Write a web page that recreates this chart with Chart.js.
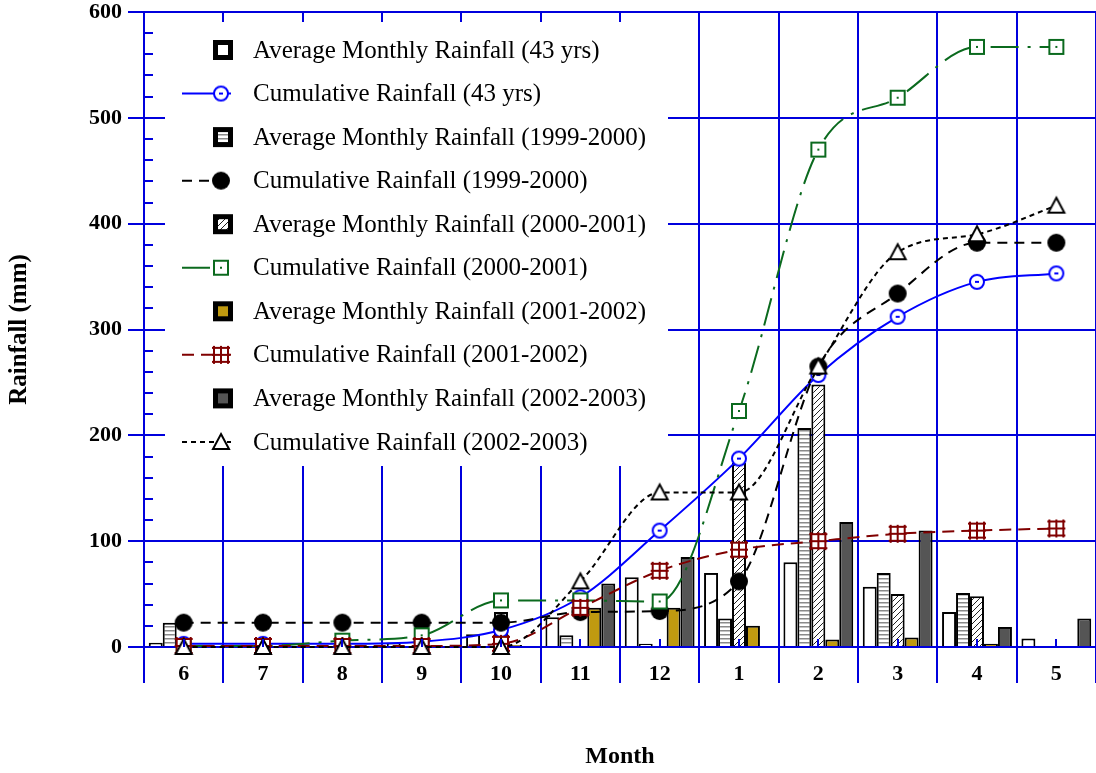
<!DOCTYPE html>
<html>
<head>
<meta charset="utf-8">
<script src="https://cdn.jsdelivr.net/npm/chart.js@4.4.1/dist/chart.umd.min.js"></script>
<style>
  html, body { margin: 0; padding: 0; background: #fff; }
  #wrap { width: 1096px; height: 773px; }
</style>
</head>
<body>
<div id="wrap"><canvas id="rain" width="1096" height="773"></canvas></div>
<script>
// hydrological year, June -> May
const months = ['6', '7', '8', '9', '10', '11', '12', '1', '2', '3', '4', '5'];

// monthly rainfall (mm)
const avg43   = [4, 0, 0, 4, 12, 28, 66, 70, 80, 57, 33, 8];
const avg9900 = [23, 0, 0, 0, 0, 11, 3, 27, 207, 70, 51, 0];
const avg0001 = [0, 0, 6, 5, 33, 0, 0, 174, 248, 50, 48, 0];
const avg0102 = [0, 0, 0, 0, 2, 37, 37, 20, 7, 9, 3, 0];
const avg0203 = [0, 0, 0, 0, 0, 60, 85, 0, 118, 110, 19, 27];

// cumulative rainfall (mm)
const cum43   = [3, 3, 3, 5, 16, 47, 110, 178, 257, 312, 345, 353];
const cum9900 = [23, 23, 23, 23, 23, 33, 34, 62, 265, 334, 382, 382];
const cum0001 = [1, 1, 6, 11, 44, 44, 43, 223, 470, 519, 567, 567];
const cum0102 = [1, 1, 1, 1, 3, 37, 72, 92, 100, 107, 110, 112];
const cum0203 = [0, 0, 0, 0, 0, 62, 146, 146, 265, 373, 390, 417];

const yTicks = [0, 100, 200, 300, 400, 500, 600];

const SERIF = '"Liberation Serif", "Times New Roman", serif';
const GRID = '#0000dd';
const BLUE = '#0000ff';
const GREEN = '#0b6a1e';
const RED = '#800000';
const GOLD = '#c09a10';
const DARK = '#555555';

const canvas = document.getElementById('rain');
const ctx = canvas.getContext('2d');

function tile(w, h, draw) {
    const c = document.createElement('canvas');
    c.width = w; c.height = h;
    const g = c.getContext('2d');
    g.fillStyle = '#fff'; g.fillRect(0, 0, w, h);
    draw(g);
    return ctx.createPattern(c, 'repeat');
}
const stripes = tile(6, 4, g => { g.fillStyle = '#8a8a8a'; g.fillRect(0, 2, 6, 1.5); });
const hatch = tile(6, 6, g => {
    g.strokeStyle = '#222'; g.lineWidth = 1;
    g.beginPath();
    g.moveTo(0, 6); g.lineTo(6, 0);
    g.moveTo(-1, 1); g.lineTo(1, -1);
    g.moveTo(5, 7); g.lineTo(7, 5);
    g.stroke();
});

function marker(size, draw) {
    const c = document.createElement('canvas');
    c.width = c.height = size;
    draw(c.getContext('2d'), size / 2);
    return c;
}
const ptCircle = marker(20, (g, m) => {
    g.beginPath(); g.arc(m, m, 7, 0, Math.PI * 2);
    g.fillStyle = '#fff'; g.fill();
    g.lineWidth = 2; g.strokeStyle = BLUE; g.stroke();
    g.fillStyle = BLUE; g.fillRect(m - 2, m - 1, 4, 2);
});
const ptDot = marker(22, (g, m) => {
    g.beginPath(); g.arc(m, m, 9, 0, Math.PI * 2);
    g.fillStyle = '#000'; g.fill();
});
const ptSquare = marker(20, (g, m) => {
    g.fillStyle = '#fff'; g.fillRect(m - 7, m - 7, 14, 14);
    g.lineWidth = 2; g.strokeStyle = GREEN; g.strokeRect(m - 7, m - 7, 14, 14);
    g.fillStyle = GREEN; g.fillRect(m - 1, m - 1, 2, 2);
});
const ptGrid = marker(22, (g, m) => {
    g.fillStyle = '#fff'; g.fillRect(m - 8, m - 8, 16, 16);
    g.strokeStyle = RED; g.lineWidth = 2;
    g.beginPath();
    for (const d of [-7, 0, 7]) {
        g.moveTo(m + d, m - 9); g.lineTo(m + d, m + 9);
        g.moveTo(m - 9, m + d); g.lineTo(m + 9, m + d);
    }
    g.stroke();
});
const ptTriangle = marker(22, (g, m) => {
    g.beginPath();
    g.moveTo(m, m - 8); g.lineTo(m + 8, m + 7); g.lineTo(m - 8, m + 7); g.closePath();
    g.fillStyle = '#fff'; g.fill();
    g.lineWidth = 2; g.strokeStyle = '#000'; g.stroke();
});

function bars(label, data, fill) {
    return { type: 'bar', label, data, backgroundColor: fill, borderColor: '#000', borderWidth: 2, order: 10 };
}
function line(label, data, color, dash, point, order) {
    return {
        type: 'line', label, data, borderColor: color, backgroundColor: color, borderWidth: 2,
        borderDash: dash, pointStyle: point, pointRadius: 8, pointHoverRadius: 8,
        cubicInterpolationMode: 'monotone', fill: false, clip: false, order
    };
}

const datasets = [
    bars('Average Monthly Rainfall (43 yrs)', avg43, '#fff'),
    line('Cumulative Rainfall (43 yrs)', cum43, BLUE, [], ptCircle, 5),
    bars('Average Monthly Rainfall (1999-2000)', avg9900, stripes),
    line('Cumulative Rainfall (1999-2000)', cum9900, '#000', [10, 7], ptDot, 4),
    bars('Average Monthly Rainfall (2000-2001)', avg0001, hatch),
    line('Cumulative Rainfall (2000-2001)', cum0001, GREEN, [28, 9, 3, 9], ptSquare, 3),
    bars('Average Monthly Rainfall (2001-2002)', avg0102, GOLD),
    line('Cumulative Rainfall (2001-2002)', cum0102, RED, [12, 7], ptGrid, 2),
    bars('Average Monthly Rainfall (2002-2003)', avg0203, DARK),
    line('Cumulative Rainfall (2002-2003)', cum0203, '#000', [5, 4], ptTriangle, 1)
];

// white legend panel over the grid, plus inward minor ticks
const frame = {
    id: 'frame',
    beforeDatasetsDraw(chart) {
        const c = chart.ctx, y = chart.scales.y, a = chart.chartArea;
        c.save();
        c.strokeStyle = GRID; c.lineWidth = 2;
        c.beginPath();
        for (let v = 20; v < 600; v += 20) {
            if (v % 100 === 0) continue;
            const py = Math.round(y.getPixelForValue(v));
            c.moveTo(a.left, py); c.lineTo(a.left + 9, py);
        }
        c.stroke();

        c.fillStyle = '#fff';
        c.fillRect(165, 22, 503, 444);
        c.font = '25px ' + SERIF;
        c.textBaseline = 'middle';
        chart.data.datasets.forEach((ds, i) => {
            const ry = 50 + i * 43.55;
            if (ds.type === 'bar') {
                c.fillStyle = '#000'; c.fillRect(213, ry - 10, 20, 20);
                c.fillStyle = ds.backgroundColor; c.fillRect(218, ry - 5, 10, 10);
            } else {
                c.strokeStyle = ds.borderColor; c.lineWidth = 2;
                c.setLineDash(ds.borderDash);
                c.beginPath(); c.moveTo(182, ry); c.lineTo(231, ry); c.stroke();
                c.setLineDash([]);
                const p = ds.pointStyle;
                c.drawImage(p, 221 - p.width / 2, ry - p.height / 2);
            }
            c.fillStyle = '#000';
            c.fillText(ds.label, 253, ry + 1);
        });
        c.restore();
    },
    afterDatasetsDraw(chart) {
        const c = chart.ctx, x = chart.scales.x, a = chart.chartArea;
        c.save();
        c.strokeStyle = GRID; c.lineWidth = 2;
        c.beginPath();
        months.forEach((m, i) => {
            const px = Math.round(x.getPixelForValue(i));
            c.moveTo(px, a.bottom); c.lineTo(px, a.bottom - 8);
        });
        c.stroke();
        c.restore();
    }
};

new Chart(ctx, {
    type: 'bar',
    data: { labels: months, datasets },
    options: {
        responsive: false,
        animation: false,
        events: [],
        layout: { autoPadding: false, padding: { top: 12, right: 0, left: 0, bottom: 0 } },
        datasets: { bar: { categoryPercentage: 0.88, barPercentage: 1.0 } },
        plugins: { legend: { display: false }, tooltip: { enabled: false } },
        scales: {
            x: {
                offset: true,
                grid: { offset: true, color: GRID, lineWidth: 2, tickLength: 36, tickColor: GRID },
                border: { color: GRID, width: 2 },
                ticks: { color: '#000', font: { family: SERIF, size: 22, weight: 'bold' }, padding: -22, maxRotation: 0, autoSkip: false },
                title: { display: true, text: 'Month', color: '#000', font: { family: SERIF, size: 24, weight: 'bold' }, padding: { top: 0, bottom: 2 } },
                afterFit: s => { s.height = 126; }
            },
            y: {
                min: 0, max: 600,
                afterBuildTicks: s => { s.ticks = yTicks.map(v => ({ value: v })); },
                grid: { color: GRID, lineWidth: 2, tickLength: 16, tickColor: GRID },
                border: { color: GRID, width: 2 },
                ticks: { color: '#000', font: { family: SERIF, size: 22, weight: 'bold', lineHeight: 0.5 }, padding: 6 },
                title: { display: true, text: 'Rainfall (mm)', color: '#000', font: { family: SERIF, size: 25, weight: 'bold' }, padding: { top: 5, bottom: 0 } },
                afterFit: s => { s.width = 144; }
            }
        }
    },
    plugins: [frame]
});
</script>
</body>
</html>
